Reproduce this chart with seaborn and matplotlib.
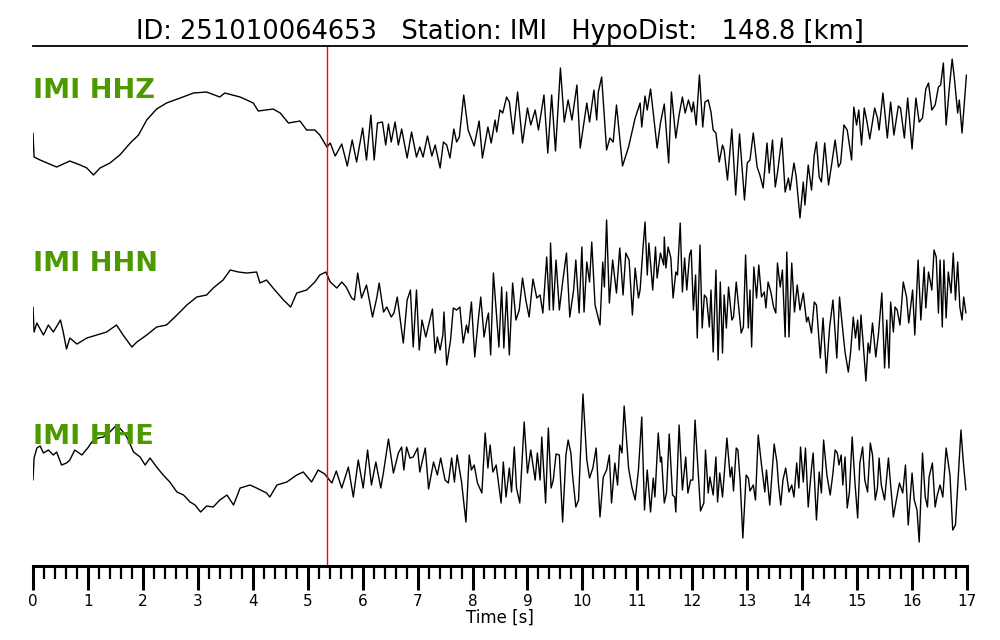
import numpy as np
import pandas as pd
import matplotlib
matplotlib.use("Agg")
import matplotlib.pyplot as plt
import seaborn as sns
from matplotlib.ticker import MultipleLocator

# ------------------------------
# DATA (time [s], amplitude in display units)
# ------------------------------
EVENT_ID = "251010064653"
STATION = "IMI"
HYPO_DIST = 148.8
PICK_TIME = 5.35
CHANNELS = ["IMI HHZ", "IMI HHN", "IMI HHE"]

hhz_t = [0.00, 0.02, 0.13, 0.43, 0.67, 0.86, 0.98, 1.10, 1.22, 1.40, 1.58, 1.77, 1.92, 2.07, 2.25,
         2.43, 2.68, 2.92, 3.16, 3.40, 3.49, 3.77, 4.01, 4.10, 4.37, 4.50, 4.65, 4.86, 4.98, 5.13,
         5.22, 5.35, 5.41, 5.50, 5.62, 5.72, 5.81, 5.89, 6.00, 6.07, 6.15, 6.21, 6.27, 6.36, 6.42,
         6.47, 6.52, 6.59, 6.65, 6.71, 6.81, 6.89, 6.98, 7.04, 7.10, 7.18, 7.26, 7.32, 7.41, 7.47,
         7.53, 7.59, 7.66, 7.71, 7.76, 7.84, 7.92, 8.03, 8.12, 8.18, 8.28, 8.34, 8.41, 8.44, 8.50,
         8.55, 8.62, 8.67, 8.74, 8.82, 8.91, 9.00, 9.06, 9.14, 9.20, 9.30, 9.37, 9.44, 9.51, 9.60,
         9.67, 9.74, 9.81, 9.90, 9.96, 10.08, 10.13, 10.21, 10.26, 10.29, 10.35, 10.44, 10.50, 10.56,
         10.62, 10.73, 10.84, 10.96, 11.05, 11.08, 11.14, 11.18, 11.24, 11.29, 11.36, 11.42, 11.49,
         11.57, 11.62, 11.70, 11.76, 11.82, 11.87, 11.93, 11.99, 12.02, 12.07, 12.13, 12.19, 12.23,
         12.29, 12.34, 12.38, 12.43, 12.49, 12.55, 12.58, 12.64, 12.72, 12.79, 12.86, 12.95, 13.00,
         13.05, 13.11, 13.18, 13.23, 13.29, 13.36, 13.40, 13.46, 13.51, 13.55, 13.63, 13.69, 13.75,
         13.78, 13.85, 13.89, 13.96, 14.02, 14.05, 14.11, 14.17, 14.22, 14.26, 14.31, 14.35, 14.41,
         14.48, 14.54, 14.60, 14.66, 14.70, 14.76, 14.82, 14.90, 14.94, 14.99, 15.03, 15.08, 15.13,
         15.18, 15.23, 15.32, 15.37, 15.40, 15.47, 15.55, 15.61, 15.67, 15.75, 15.79, 15.86, 15.92,
         16.00, 16.07, 16.13, 16.19, 16.25, 16.30, 16.36, 16.42, 16.48, 16.52, 16.57, 16.62, 16.68,
         16.73, 16.77, 16.83, 16.86, 16.91, 16.99]
hhz_a = [7, -17, -20, -27, -21, -25, -28, -35, -28, -23, -15, -3, 5, 20, 31,
         37, 42, 47, 48, 43, 47, 43, 37, 29, 31, 27, 17, 19, 10, 10,
         5, -7, -3, -16, -4, -26, 0, -22, 12, -20, 25, -20, 17, 18, -5,
         16, -2, 18, -5, 11, -18, 8, -17, -7, -17, 4, -16, -5, -28, -2,
         -5, -18, 11, -2, 3, 45, 10, -6, 19, -18, 13, -3, 20, 8, 30,
         27, 43, 38, 6, 48, -3, 32, 15, 30, 10, 45, -13, 45, -11, 72,
         18, 40, 20, 55, -8, 37, 18, 50, 20, 48, 63, -10, 2, -2,
         35, -26, -7, 22, 37, 13, 44, 30, 51, 27, -8, 17, 36,
         -23, 48, 2, 25, 43, 27, 40, 28, 38, 15, 65, 13, 38,
         40, 28, 10, 7, -22, -5, -10, -40, 11, -55, 6, -60, -23,
         -20, 7, -27, -35, -48, -3, -33, 0, -47, -33, 2, -52, -38,
         -50, -23, -36, -78, -42, -65, -25, -50, -15, -2, -37, -42, -3,
         -45, -23, 0, -27, -23, 15, 10, -20, 33, 15, 30, -5, 32,
         18, 1, 32, 22, 10, 47, 2, 38, 5, 34, 32, 2, 42,
         -9, 42, 18, 22, 51, 57, 30, 35, 53, 55, 77, 15, 53,
         81, 62, 27, 40, 7, 65]

hhn_t = [0.00, 0.02, 0.07, 0.19, 0.28, 0.37, 0.50, 0.55, 0.61, 0.67, 0.80, 0.98, 1.16, 1.34, 1.52,
         1.64, 1.80, 1.89, 2.07, 2.25, 2.43, 2.62, 2.80, 2.98, 3.16, 3.28, 3.46, 3.59, 3.74, 3.89,
         4.07, 4.13, 4.25, 4.37, 4.56, 4.69, 4.80, 4.98, 5.13, 5.22, 5.33, 5.41, 5.53, 5.62, 5.70,
         5.80, 5.85, 5.91, 5.98, 6.07, 6.18, 6.26, 6.30, 6.38, 6.44, 6.52, 6.57, 6.63, 6.74, 6.81,
         6.87, 6.92, 6.98, 7.03, 7.08, 7.15, 7.21, 7.27, 7.32, 7.36, 7.41, 7.46, 7.48, 7.53, 7.60,
         7.65, 7.71, 7.77, 7.83, 7.89, 7.92, 7.98, 8.04, 8.11, 8.15, 8.21, 8.26, 8.29, 8.33, 8.38,
         8.44, 8.48, 8.53, 8.57, 8.62, 8.67, 8.73, 8.79, 8.85, 8.91, 8.97, 9.03, 9.10, 9.17, 9.23,
         9.28, 9.35, 9.40, 9.42, 9.47, 9.52, 9.58, 9.64, 9.71, 9.77, 9.84, 9.88, 9.94, 9.99, 10.03,
         10.08, 10.13, 10.17, 10.23, 10.32, 10.37, 10.40, 10.44, 10.49, 10.55, 10.62, 10.68, 10.74,
         10.79, 10.85, 10.91, 10.96, 11.02, 11.05, 11.10, 11.14, 11.18, 11.21, 11.28, 11.33, 11.36,
         11.42, 11.48, 11.49, 11.52, 11.56, 11.61, 11.65, 11.70, 11.73, 11.78, 11.82, 11.86, 11.90,
         11.95, 11.98, 12.02, 12.06, 12.09, 12.14, 12.18, 12.22, 12.26, 12.31, 12.34, 12.38, 12.43,
         12.47, 12.51, 12.55, 12.58, 12.62, 12.66, 12.72, 12.75, 12.80, 12.85, 12.89, 12.93, 12.97,
         13.02, 13.05, 13.08, 13.12, 13.17, 13.21, 13.26, 13.31, 13.34, 13.38, 13.43, 13.48, 13.52,
         13.55, 13.60, 13.64, 13.69, 13.72, 13.76, 13.81, 13.86, 13.91, 13.96, 14.02, 14.08, 14.11,
         14.17, 14.22, 14.26, 14.33, 14.38, 14.44, 14.50, 14.56, 14.63, 14.68, 14.72, 14.78, 14.84,
         14.88, 14.93, 14.97, 15.01, 15.04, 15.07, 15.11, 15.16, 15.20, 15.23, 15.28, 15.34, 15.39,
         15.45, 15.50, 15.54, 15.58, 15.61, 15.66, 15.69, 15.73, 15.78, 15.84, 15.90, 15.94, 16.01,
         16.05, 16.11, 16.16, 16.22, 16.25, 16.30, 16.36, 16.40, 16.44, 16.48, 16.51, 16.55, 16.58,
         16.62, 16.66, 16.71, 16.75, 16.79, 16.83, 16.87, 16.91, 16.94, 16.98]
hhn_a = [6, -19, -10, -22, -12, -19, -7, -19, -36, -25, -31, -25, -22, -19, -12,
         -22, -34, -29, -22, -14, -12, -2, 8, 16, 18, 25, 33, 43, 41, 40,
         41, 30, 33, 25, 13, 6, 20, 23, 31, 38, 41, 31, 25, 31, 26,
         15, 13, 40, 15, 28, -4, 16, 30, 1, 6, -4, 0, 16, -30, 13,
         23, -34, 23, -37, -7, -24, -10, 4, -40, -24, -37, -22, 1, -52, -27,
         5, 3, 6, -30, -12, -20, 11, -44, -4, 16, -24, -7, 0, -42, 40,
         -4, -34, 26, -35, 21, -42, 30, -7, 3, 35, 13, -4, 34, 15, 18,
         0, 56, 3, 70, 3, 53, 3, 31, 60, -4, 23, 53, 0, 66, 1,
         51, 31, 71, 8, -12, 51, 26, 93, 10, 53, 20, 65, 18,
         60, 53, -2, 45, 15, 23, 63, 91, 38, 70, 23, 66, 35,
         60, 48, 76, 45, 66, 55, 15, 41, 38, 90, 21, 55, 23,
         58, 63, 3, 38, -25, 68, -15, 18, 15, -14, 23, -39, 43,
         -47, 31, -40, 18, -15, 26, -7, -4, 31, 3, -20, -14, 58,
         -15, 23, -34, 46, 15, 48, 16, 21, 5, 31, 21, 6, 0,
         50, 26, 43, -24, 61, -24, 50, 1, 28, 3, 20, -9, -4,
         -20, 11, 8, -45, -5, -60, -14, 13, -45, 16, -7, -39, -59,
         -40, -4, -25, -7, -37, -2, -30, -68, -30, -40, -10, -44, -20,
         20, -55, -7, -55, 11, -19, 6, 3, -12, 31, 16, -10, 23,
         -22, 53, -7, 46, 5, 41, 23, 63, 56, 0, 53, -14, 53,
         -5, 41, 20, 60, 13, 51, 6, -7, 16, 0]

hhe_t = [0.00, 0.02, 0.07, 0.13, 0.19, 0.28, 0.37, 0.43, 0.52, 0.61, 0.67, 0.76, 0.89, 1.01, 1.07,
         1.19, 1.28, 1.40, 1.52, 1.61, 1.71, 1.83, 1.95, 2.04, 2.13, 2.25, 2.37, 2.49, 2.62, 2.74,
         2.86, 2.95, 3.05, 3.16, 3.28, 3.40, 3.53, 3.65, 3.77, 3.95, 4.07, 4.25, 4.31, 4.44, 4.62,
         4.80, 4.92, 5.07, 5.19, 5.31, 5.44, 5.52, 5.62, 5.74, 5.83, 5.92, 6.01, 6.09, 6.16, 6.24,
         6.33, 6.38, 6.47, 6.56, 6.65, 6.71, 6.75, 6.80, 6.86, 6.92, 7.00, 7.04, 7.14, 7.20, 7.29,
         7.36, 7.42, 7.50, 7.56, 7.62, 7.67, 7.72, 7.80, 7.88, 7.94, 7.98, 8.03, 8.09, 8.17, 8.23,
         8.28, 8.32, 8.37, 8.43, 8.47, 8.52, 8.56, 8.61, 8.67, 8.71, 8.76, 8.80, 8.86, 8.94, 9.00,
         9.06, 9.14, 9.18, 9.23, 9.26, 9.33, 9.38, 9.43, 9.47, 9.52, 9.58, 9.64, 9.70, 9.74, 9.79,
         9.82, 9.88, 9.93, 10.01, 10.08, 10.13, 10.19, 10.25, 10.32, 10.38, 10.44, 10.49, 10.53,
         10.59, 10.64, 10.68, 10.72, 10.76, 10.84, 10.90, 10.96, 11.02, 11.08, 11.13, 11.18, 11.24,
         11.29, 11.32, 11.38, 11.42, 11.44, 11.49, 11.53, 11.58, 11.64, 11.68, 11.70, 11.76, 11.82,
         11.88, 11.92, 11.97, 12.01, 12.05, 12.15, 12.21, 12.24, 12.29, 12.32, 12.38, 12.43, 12.46,
         12.50, 12.55, 12.63, 12.69, 12.72, 12.75, 12.80, 12.83, 12.87, 12.92, 12.98, 13.02, 13.05,
         13.11, 13.15, 13.20, 13.26, 13.32, 13.35, 13.41, 13.49, 13.54, 13.57, 13.61, 13.65, 13.70,
         13.76, 13.81, 13.85, 13.90, 13.94, 13.97, 14.02, 14.06, 14.11, 14.17, 14.20, 14.26, 14.31,
         14.35, 14.39, 14.45, 14.51, 14.56, 14.60, 14.64, 14.67, 14.71, 14.74, 14.78, 14.82, 14.86,
         14.91, 14.96, 15.01, 15.05, 15.10, 15.14, 15.19, 15.24, 15.28, 15.33, 15.37, 15.40, 15.44,
         15.50, 15.57, 15.61, 15.66, 15.72, 15.77, 15.83, 15.88, 15.93, 16.00, 16.04, 16.09, 16.13,
         16.19, 16.24, 16.28, 16.31, 16.37, 16.42, 16.46, 16.51, 16.56, 16.62, 16.69, 16.74, 16.79,
         16.83, 16.89, 16.93, 16.98]
hhe_a = [6, 28, 38, 40, 33, 36, 31, 34, 21, 23, 26, 36, 31, 39, 44,
         48, 49, 54, 61, 56, 49, 34, 29, 21, 28, 19, 11, 4, -6, -9,
         -16, -19, -26, -20, -21, -14, -9, -19, -2, 1, -2, -7, -11, 1, 4,
         11, 14, 4, 16, 12, 3, 15, -2, 19, -11, 26, -2, 36, 1, 24,
         -2, 14, 47, 13, 33, 39, 16, 39, 28, 29, 38, 14, 38, -3, 24,
         11, 28, 6, 3, 28, 4, 31, 4, -36, 31, 16, 21, 3, -7, 53,
         18, 41, 14, 21, 4, -17, 24, -11, 18, -6, 39, -2, -17, 64, 13,
         36, 6, 33, 6, 49, -17, 58, -2, 6, 32, 31, -36, 31, 46, 33,
         11, -21, -14, 92, 26, 8, 18, 38, -31, 9, 16, 31, -17,
         23, 1, 41, 33, 80, 18, -1, -14, 16, 69, -24, 16, -26,
         8, -11, 53, 24, 29, -17, -7, 52, -9, -11, -26, 61, -4,
         29, -7, 6, 6, 66, -25, -17, 36, -7, 9, -9, 29, -16,
         13, -11, 48, 9, 19, -5, 38, 36, 6, -52, 11, 8, -5,
         1, -14, 51, 21, -6, 16, -19, 42, 24, 1, -19, 6, 18,
         -6, 1, -11, 23, -2, 39, 4, 38, -21, 18, 33, -34, 14,
         -7, 46, 11, -9, 13, 36, 33, 21, 31, 1, 29, -22, -6,
         49, 4, -32, 23, 39, 6, -6, 43, 31, -14, -2, 28, 1,
         -14, 28, 1, -31, -12, 3, -7, 21, -39, 13, -14, -24, -56,
         33, -11, -21, 9, 23, -21, -9, 1, -11, 38, 11, -44, -39,
         -1, 56, 26, -4]

TRACES = [(hhz_t, hhz_a), (hhn_t, hhn_a), (hhe_t, hhe_a)]

# ------------------------------
# LAYOUT
# ------------------------------
SPACING = 173          # vertical distance between channels
LABEL_RISE = 49        # channel label height above trace centre
GREEN = "#4d9a00"

sns.set_style("white", rc={"text.color": "black", "axes.labelcolor": "black",
                           "xtick.color": "black", "xtick.bottom": True})
plt.rcParams['font.family'] = ['DejaVu Sans']

fig = plt.figure(figsize=(10, 6.4), dpi=100)
ax = fig.add_axes([0.033, 0.1156, 0.934, 0.8125])

for i, ((t, a), name) in enumerate(zip(TRACES, CHANNELS)):
    off = -i * SPACING
    df = pd.DataFrame({"t": t, "amp": np.asarray(a, dtype=float) + off})
    sns.lineplot(data=df, x="t", y="amp", ax=ax, color="black", linewidth=1.0,
                 estimator=None, sort=False)
    ax.text(0.0, off + LABEL_RISE, name, color=GREEN, fontsize=19.5, fontweight="bold",
            ha="left", va="center")

ax.axvline(PICK_TIME, color="red", linewidth=1.0)

ax.set_xlim(0, 17)
ax.set_ylim(-426, 94)
ax.set_yticks([])
ax.set_ylabel("")
ax.set_xlabel("Time [s]", fontsize=12, labelpad=0, color="black")

ax.xaxis.set_major_locator(MultipleLocator(1))
ax.xaxis.set_minor_locator(MultipleLocator(0.2))
ax.tick_params(axis="x", which="both", bottom=True)
ax.tick_params(axis="x", which="major", direction="out", length=17, width=2.2,
               labelsize=11, pad=3, color="black", labelcolor="black")
ax.tick_params(axis="x", which="minor", direction="out", length=9, width=1.6, color="black")

for side in ["left", "right"]:
    ax.spines[side].set_visible(False)
ax.spines["top"].set_linewidth(1.3)
ax.spines["bottom"].set_linewidth(2.2)
ax.spines["top"].set_color("black")
ax.spines["bottom"].set_color("black")

ax.set_title(f"ID: {EVENT_ID}   Station: {STATION}   HypoDist:   {HYPO_DIST} [km]",
             fontsize=18.5, pad=5, color="black")

fig.savefig("out.png", dpi=100)
